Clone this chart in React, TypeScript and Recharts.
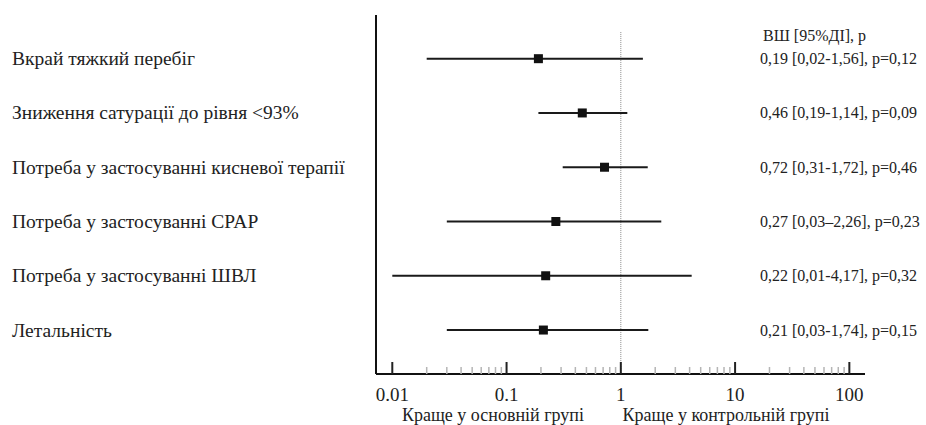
import {
  ScatterChart,
  Scatter,
  ErrorBar,
  XAxis,
  YAxis,
  ReferenceLine
} from "recharts";

const outcomes = [
  "Вкрай тяжкий перебіг",
  "Зниження сатурації до рівня <93%",
  "Потреба у застосуванні кисневої терапії",
  "Потреба у застосуванні CPAP",
  "Потреба у застосуванні ШВЛ",
  "Летальність"
];
const oddsRatio = [0.19, 0.46, 0.72, 0.27, 0.22, 0.21];
const ciLow = [0.02, 0.19, 0.31, 0.03, 0.01, 0.03];
const ciHigh = [1.56, 1.14, 1.72, 2.26, 4.17, 1.74];
const resultText = [
  "0,19 [0,02-1,56], p=0,12",
  "0,46 [0,19-1,14], p=0,09",
  "0,72 [0,31-1,72], p=0,46",
  "0,27 [0,03–2,26], p=0,23",
  "0,22 [0,01-4,17], p=0,32",
  "0,21 [0,03-1,74], p=0,15"
];
const majorTicks = [0.01, 0.1, 1, 10, 100];
const minorSteps = [2, 3, 4, 5, 6, 7, 8, 9];

const allTicks = [
  ...majorTicks,
  ...majorTicks.slice(0, 4).flatMap((d) => minorSteps.map((s) => +(d * s).toPrecision(3)))
];

const rows = outcomes.map((name, i) => ({
  row: i,
  or: oddsRatio[i],
  err: [oddsRatio[i] - ciLow[i], ciHigh[i] - oddsRatio[i]]
}));

const font = '"Liberation Serif", "Times New Roman", serif';

const XTick = (props: any) => {
  const { x, y, payload } = props;
  const major = majorTicks.includes(payload.value);
  if (!major) {
    return <line x1={x} x2={x} y1={y - 7} y2={y} stroke="#b5b5b5" strokeWidth={1.5} />;
  }
  return (
    <g>
      <line x1={x} x2={x} y1={y - 12} y2={y} stroke="#222" strokeWidth={2} />
      <text x={x} y={y + 20} textAnchor="middle" dominantBaseline="central" fontSize={19} fontFamily={font} fill="#222">
        {payload.value}
      </text>
    </g>
  );
};

const YTick = (props: any) => {
  const { y, payload } = props;
  const i = payload.value;
  return (
    <g fontFamily={font} fill="#222">
      <text x={12} y={y} dominantBaseline="central" fontSize={19.5}>{outcomes[i]}</text>
      <text x={760} y={y} dominantBaseline="central" fontSize={16}>{resultText[i]}</text>
    </g>
  );
};

const Square = (props: any) => {
  const { cx, cy } = props;
  return <rect x={cx - 4.5} y={cy - 4.5} width={9} height={9} fill="#111" />;
};

export default function App() {
  return (
    <div style={{ position: "absolute", left: 0, top: 0 }}>
      <ScatterChart
        width={926}
        height={425}
        margin={{ top: 15, right: 61, bottom: 0, left: 0 }}
      >
        <XAxis
          type="number"
          dataKey="or"
          scale="log"
          domain={[Math.pow(10, -2.1426), Math.pow(10, 2.137)]}
          allowDataOverflow
          ticks={allTicks}
          interval={0}
          tickSize={0}
          tickMargin={0}
          tickLine={false}
          axisLine={{ stroke: "#111", strokeWidth: 2 }}
          height={51}
          tick={<XTick />}
        />
        <YAxis
          type="number"
          dataKey="row"
          domain={[-0.805, 5.81]}
          allowDataOverflow
          reversed
          ticks={[0, 1, 2, 3, 4, 5]}
          interval={0}
          tickSize={0}
          tickLine={false}
          axisLine={{ stroke: "#111", strokeWidth: 2 }}
          width={376}
          tick={<YTick />}
        />
        <ReferenceLine
          segment={[{ x: 1, y: -0.49 }, { x: 1, y: 5.81 }]}
          stroke="#888"
          strokeDasharray="1 1"
          strokeWidth={1}
        />
        <Scatter data={rows} shape={<Square />} isAnimationActive={false}>
          <ErrorBar dataKey="err" direction="x" width={0} stroke="#1a1a1a" strokeWidth={2} />
        </Scatter>
        <text x={763} y={35} dominantBaseline="central" fontFamily={font} fontSize={16} fill="#222">
          ВШ [95%ДІ], р
        </text>
        <text x={493} y={415} textAnchor="middle" dominantBaseline="central" fontFamily={font} fontSize={18} fill="#222">
          Краще у основній групі
        </text>
        <text x={726} y={415} textAnchor="middle" dominantBaseline="central" fontFamily={font} fontSize={18} fill="#222">
          Краще у контрольній групі
        </text>
      </ScatterChart>
    </div>
  );
}
